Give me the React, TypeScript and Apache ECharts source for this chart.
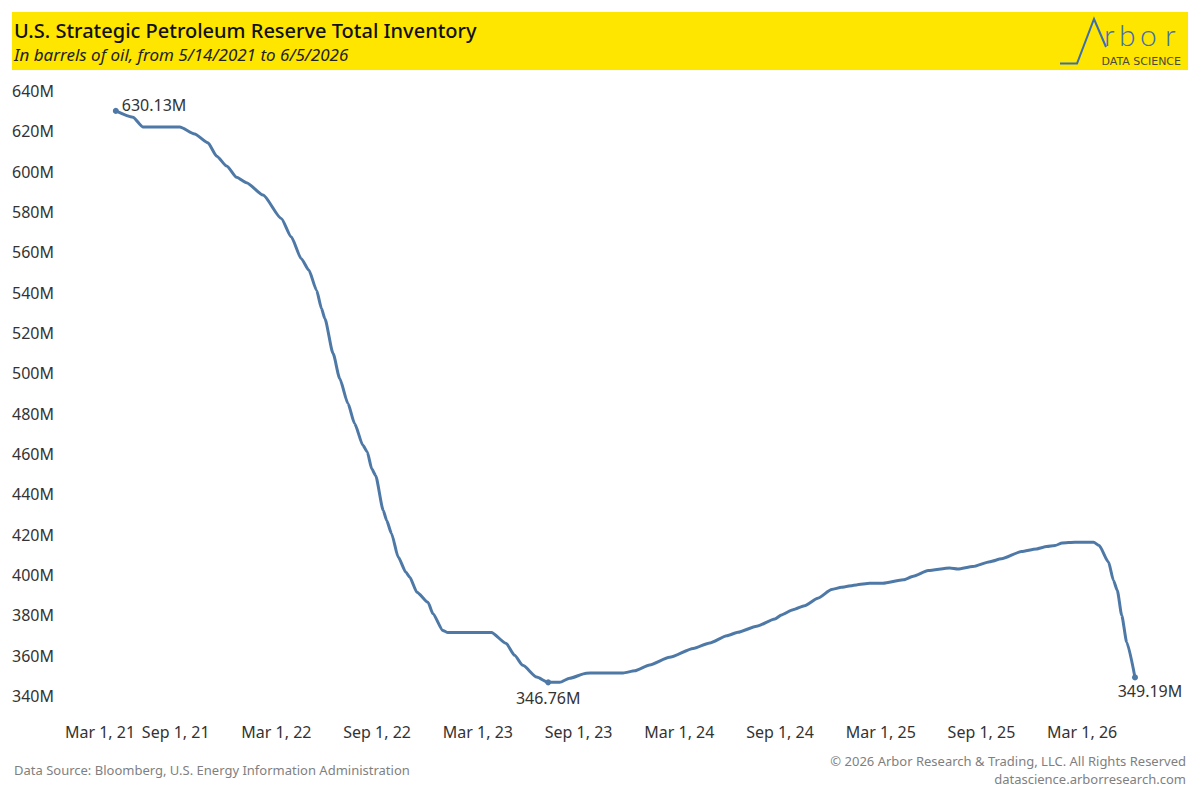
import React, { useEffect, useRef } from "react";
import * as echarts from "echarts";

// Weekly readings (approximate), millions of barrels
const dates: string[] = [
  "2021-05-14", "2021-06-14", "2021-07-02", "2021-09-07", "2021-10-04", "2021-10-28",
  "2021-11-13", "2021-12-01", "2021-12-19", "2022-01-06", "2022-02-05", "2022-03-10",
  "2022-03-28", "2022-04-15", "2022-04-29", "2022-05-13", "2022-05-22", "2022-05-28",
  "2022-06-12", "2022-06-24", "2022-07-09", "2022-07-21", "2022-08-05", "2022-08-13",
  "2022-08-21", "2022-08-28", "2022-09-11", "2022-09-17", "2022-09-26", "2022-10-08",
  "2022-10-22", "2022-10-29", "2022-11-11", "2022-12-01", "2022-12-10", "2022-12-28",
  "2023-01-06", "2023-03-26", "2023-04-22", "2023-05-07", "2023-05-22", "2023-06-16",
  "2023-07-07", "2023-07-28", "2023-08-15", "2023-09-14", "2023-09-29", "2023-11-20",
  "2023-12-11", "2024-01-07", "2024-02-12", "2024-03-26", "2024-04-25", "2024-05-26",
  "2024-06-15", "2024-07-19", "2024-08-21", "2024-09-02", "2024-09-23", "2024-10-14",
  "2024-11-07", "2024-12-02", "2024-12-20", "2025-01-16", "2025-02-09", "2025-03-05",
  "2025-04-11", "2025-04-29", "2025-05-26", "2025-07-04", "2025-07-19", "2025-08-15",
  "2025-09-15", "2025-10-06", "2025-11-11", "2025-12-08", "2025-12-27", "2026-01-11",
  "2026-01-24", "2026-02-16", "2026-03-22", "2026-04-01", "2026-04-18", "2026-04-27",
  "2026-05-04", "2026-05-12", "2026-05-21", "2026-06-05",
];

const inventory: number[] = [
  630.13, 627.0, 622.2, 622.2, 618.7, 614.3,
  607.7, 602.8, 597.2, 594.5, 588.4, 576.8,
  567.7, 557.0, 551.2, 541.2, 532.1, 527.2,
  509.8, 497.4, 485.0, 475.1, 464.3, 461.0,
  452.7, 449.4, 432.0, 427.1, 420.5, 408.9,
  401.4, 398.9, 391.5, 386.5, 380.8, 372.5,
  371.5, 371.5, 366.0, 360.2, 355.2, 349.4,
  346.76, 346.8, 348.8, 351.3, 351.4, 351.4,
  352.5, 355.4, 359.2, 363.6, 366.3, 369.9,
  371.6, 374.6, 378.2, 380.2, 382.8, 384.8,
  388.5, 392.8, 393.9, 395.1, 395.9, 395.9,
  397.6, 399.4, 402.2, 403.5, 403.0, 404.2,
  406.6, 408.0, 411.6, 412.9, 414.1, 414.6,
  415.9, 416.3, 416.3, 414.6, 406.4, 397.3,
  392.3, 379.9, 366.7, 349.19,
];

const xTickLabels: string[] = [
  "Mar 1, 21", "Sep 1, 21", "Mar 1, 22", "Sep 1, 22", "Mar 1, 23", "Sep 1, 23",
  "Mar 1, 24", "Sep 1, 24", "Mar 1, 25", "Sep 1, 25", "Mar 1, 26",
];

const yMin = 340;
const yMax = 640;
const yStep = 20;

const axisOrigin = "2021-03-01";
const halfYearDays = 182.625;
const axisEndDays = 2000;

const FONT = "'Noto Sans', sans-serif";

const DAY_MS = 86400000;
const toDays = (d: string) => (Date.parse(d) - Date.parse(axisOrigin)) / DAY_MS;

export default function App() {
  const ref = useRef<HTMLDivElement>(null);

  useEffect(() => {
    if (!ref.current) return;
    const chart = echarts.init(ref.current, undefined, { renderer: "svg" });

    let minIdx = 0;
    inventory.forEach((v, i) => {
      if (v < inventory[minIdx]) minIdx = i;
    });
    const lastIdx = inventory.length - 1;
    const labelStyle = { color: "#333333", fontSize: 16, fontFamily: FONT };

    const lineData = dates.map((d, i) => {
      const item: any = { value: [toDays(d), inventory[i]] };
      const fmt = inventory[i].toFixed(2) + "M";
      if (i === 0) {
        item.symbol = "circle";
        item.symbolSize = 6;
        item.label = { show: true, position: "right", distance: 3, offset: [0, -6], formatter: fmt, ...labelStyle };
      } else if (i === minIdx) {
        item.symbol = "circle";
        item.symbolSize = 6;
        item.label = { show: true, position: "bottom", distance: 5, formatter: fmt, ...labelStyle };
      } else if (i === lastIdx) {
        item.symbol = "circle";
        item.symbolSize = 6;
        item.label = { show: true, position: "bottom", distance: 3, offset: [15, 0], formatter: fmt, ...labelStyle };
      }
      return item;
    });

    const logoLetters = [
      { ch: "r", x: 1104 },
      { ch: "b", x: 1119 },
      { ch: "o", x: 1140 },
      { ch: "r", x: 1165 },
    ];

    chart.setOption({
      animation: false,
      backgroundColor: "#ffffff",
      grid: { left: 75, right: 22, top: 91, bottom: 104, containLabel: false },
      xAxis: {
        type: "value",
        min: 0,
        max: axisEndDays,
        interval: halfYearDays,
        axisLine: { show: false },
        axisTick: { show: false },
        splitLine: { show: false },
        axisLabel: {
          color: "#333333",
          fontSize: 16,
          fontFamily: FONT,
          margin: 28,
          formatter: (v: number) => {
            const k = v / halfYearDays;
            const r = Math.round(k);
            if (Math.abs(k - r) > 0.01 || r < 0 || r >= xTickLabels.length) return "";
            return r === 0 ? "{first|" + xTickLabels[0] + "}" : xTickLabels[r];
          },
          rich: {
            first: { padding: [0, 0, 0, 50], color: "#333333", fontSize: 16, fontFamily: FONT },
          },
        },
      },
      yAxis: {
        type: "value",
        min: yMin,
        max: yMax,
        interval: yStep,
        axisLine: { show: false },
        axisTick: { show: false },
        splitLine: { show: false },
        axisLabel: {
          color: "#333333",
          fontSize: 16,
          fontFamily: FONT,
          align: "left",
          margin: 63,
          formatter: (v: number) => v + "M",
        },
      },
      series: [
        {
          type: "line",
          data: lineData,
          symbol: "none",
          showSymbol: true,
          smooth: 0.2,
          smoothMonotone: "x",
          lineStyle: { color: "#4e79a7", width: 3 },
          itemStyle: { color: "#4e79a7" },
          emphasis: { disabled: true },
          z: 3,
        },
      ],
      graphic: [
        { type: "rect", shape: { x: 12, y: 12, width: 1176, height: 58 }, style: { fill: "#FFE600" }, z: 0 },
        {
          type: "text", x: 14, y: 30,
          style: { text: "U.S. Strategic Petroleum Reserve Total Inventory", fill: "#111111", font: `500 20px ${FONT}`, textVerticalAlign: "middle" },
          z: 2,
        },
        {
          type: "text", x: 14, y: 54,
          style: { text: "In barrels of oil, from 5/14/2021 to 6/5/2026", fill: "#222222", font: `italic 17px ${FONT}`, textVerticalAlign: "middle" },
          z: 2,
        },
        {
          type: "polyline",
          shape: { points: [[1060, 63.5], [1077, 63.5], [1094, 19], [1106, 47]] },
          style: { stroke: "#3b6eb0", lineWidth: 2, fill: null },
          z: 2,
        },
        ...logoLetters.map((l) => ({
          type: "text", x: l.x, y: 49,
          style: { text: l.ch, fill: "#3b6eb0", font: `300 30px Lato, ${FONT}`, textVerticalAlign: "bottom" },
          z: 2,
        })),
        {
          type: "text", x: 1181, y: 61,
          style: { text: "DATA SCIENCE", fill: "#4a4a3a", font: `11px 'DejaVu Sans', sans-serif`, textAlign: "right", textVerticalAlign: "middle" },
          z: 2,
        },
        {
          type: "text", x: 14, y: 770,
          style: { text: "Data Source: Bloomberg, U.S. Energy Information Administration", fill: "#7f7f7f", font: `13px ${FONT}`, textVerticalAlign: "middle" },
        },
        {
          type: "text", x: 1186, y: 761,
          style: { text: "© 2026 Arbor Research & Trading, LLC. All Rights Reserved", fill: "#7f7f7f", font: `13px ${FONT}`, textAlign: "right", textVerticalAlign: "middle" },
        },
        {
          type: "text", x: 1186, y: 779,
          style: { text: "datascience.arborresearch.com", fill: "#7f7f7f", font: `13px ${FONT}`, textAlign: "right", textVerticalAlign: "middle" },
        },
      ],
    });

    return () => chart.dispose();
  }, []);

  return (
    <div
      ref={ref}
      style={{ position: "fixed", left: 0, top: 0, width: 1200, height: 800, background: "#ffffff" }}
    />
  );
}
